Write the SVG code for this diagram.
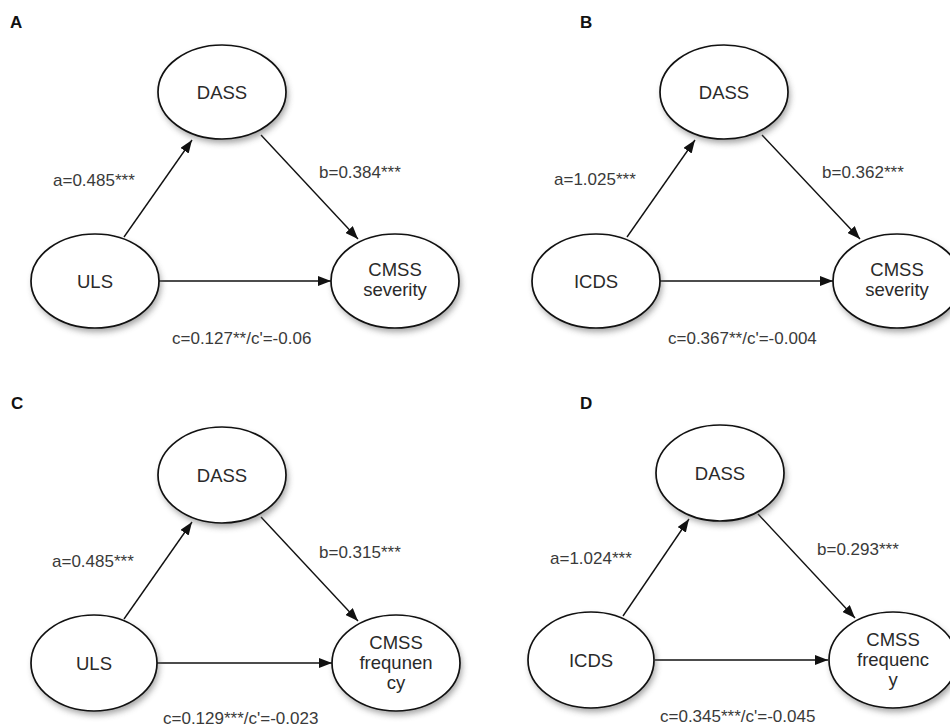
<svg xmlns="http://www.w3.org/2000/svg" width="950" height="727" viewBox="0 0 950 727">
<style>
.node{fill:#fff;stroke:#111;stroke-width:1.7}
.shadow{fill:#666;opacity:0.6}
.nt{font-family:"Liberation Sans",Arial,sans-serif;font-size:18.5px;fill:#2a2a2a;text-anchor:middle}
.lab{font-family:"Liberation Sans",Arial,sans-serif;font-size:17px;fill:#3a3a3a}
.pl{font-family:"Liberation Sans",Arial,sans-serif;font-size:17px;font-weight:bold;fill:#111}
.edge{stroke:#111;stroke-width:1.4;fill:none;marker-end:url(#arr)}
</style>
<defs>
<marker id="arr" markerUnits="userSpaceOnUse" markerWidth="13" markerHeight="10" refX="13" refY="5" orient="auto">
<path d="M0,0 L13,5 L0,10 z" fill="#111"/>
</marker>
<filter id="blur" x="-20%" y="-20%" width="140%" height="140%"><feGaussianBlur stdDeviation="3"/></filter>
</defs>
<rect width="950" height="727" fill="#fff"/>

<g id="labels-panels">
<text class="pl" x="10" y="28">A</text>
<text class="pl" x="580" y="28">B</text>
<text class="pl" x="11" y="409">C</text>
<text class="pl" x="580" y="409">D</text>
</g>

<g id="connectors">
<line class="edge" x1="124" y1="237" x2="192" y2="140"/>
<line class="edge" x1="261" y1="135" x2="358" y2="239"/>
<line class="edge" x1="159" y1="281" x2="331" y2="281"/>

<line class="edge" x1="627" y1="237" x2="695" y2="140"/>
<line class="edge" x1="762" y1="135" x2="860" y2="239"/>
<line class="edge" x1="660" y1="281" x2="833" y2="281"/>

<line class="edge" x1="124" y1="619" x2="192" y2="522"/>
<line class="edge" x1="261" y1="517" x2="358" y2="621"/>
<line class="edge" x1="157" y1="663" x2="332" y2="663"/>

<line class="edge" x1="623" y1="616" x2="689" y2="519"/>
<line class="edge" x1="758" y1="514" x2="855" y2="618"/>
<line class="edge" x1="655" y1="660" x2="828" y2="660"/>
</g>

<g id="edge-labels">
<text class="lab" x="53" y="186">a=0.485***</text>
<text class="lab" x="319" y="178">b=0.384***</text>
<text class="lab" x="172" y="344">c=0.127**/c'=-0.06</text>

<text class="lab" x="554" y="185">a=1.025***</text>
<text class="lab" x="822" y="178">b=0.362***</text>
<text class="lab" x="668" y="344">c=0.367**/c'=-0.004</text>

<text class="lab" x="52" y="567">a=0.485***</text>
<text class="lab" x="319" y="558">b=0.315***</text>
<text class="lab" x="163" y="724">c=0.129***/c'=-0.023</text>

<text class="lab" x="550" y="564">a=1.024***</text>
<text class="lab" x="817" y="555">b=0.293***</text>
<text class="lab" x="660" y="722">c=0.345***/c'=-0.045</text>
</g>

<g id="A-DASS"><ellipse class="shadow" cx="224" cy="96" rx="64" ry="47" filter="url(#blur)"/><ellipse class="node" cx="222" cy="92" rx="64" ry="47"/><text class="nt" x="222" y="99">DASS</text></g>
<g id="A-ULS"><ellipse class="shadow" cx="97" cy="285" rx="64" ry="47" filter="url(#blur)"/><ellipse class="node" cx="95" cy="281" rx="64" ry="47"/><text class="nt" x="95" y="288">ULS</text></g>
<g id="A-CMSS"><ellipse class="shadow" cx="397" cy="285" rx="64" ry="47" filter="url(#blur)"/><ellipse class="node" cx="395" cy="281" rx="64" ry="47"/><text class="nt" x="395" y="276">CMSS</text><text class="nt" x="395" y="296">severity</text></g>

<g id="B-DASS"><ellipse class="shadow" cx="726" cy="96" rx="64" ry="47" filter="url(#blur)"/><ellipse class="node" cx="724" cy="92" rx="64" ry="47"/><text class="nt" x="724" y="99">DASS</text></g>
<g id="B-ICDS"><ellipse class="shadow" cx="598" cy="285" rx="64" ry="47" filter="url(#blur)"/><ellipse class="node" cx="596" cy="281" rx="64" ry="47"/><text class="nt" x="596" y="288">ICDS</text></g>
<g id="B-CMSS"><ellipse class="shadow" cx="899" cy="285" rx="64" ry="47" filter="url(#blur)"/><ellipse class="node" cx="897" cy="281" rx="64" ry="47"/><text class="nt" x="897" y="276">CMSS</text><text class="nt" x="897" y="296">severity</text></g>

<g id="C-DASS"><ellipse class="shadow" cx="224" cy="479" rx="64" ry="48" filter="url(#blur)"/><ellipse class="node" cx="222" cy="475" rx="64" ry="48"/><text class="nt" x="222" y="482">DASS</text></g>
<g id="C-ULS"><ellipse class="shadow" cx="96" cy="667" rx="63" ry="48" filter="url(#blur)"/><ellipse class="node" cx="94" cy="663" rx="63" ry="48"/><text class="nt" x="94" y="670">ULS</text></g>
<g id="C-CMSS"><ellipse class="shadow" cx="398" cy="667" rx="64" ry="48" filter="url(#blur)"/><ellipse class="node" cx="396" cy="663" rx="64" ry="48"/><text class="nt" x="396" y="649">CMSS</text><text class="nt" x="396" y="669">frequnen</text><text class="nt" x="396" y="689">cy</text></g>

<g id="D-DASS"><ellipse class="shadow" cx="722" cy="477" rx="64" ry="48" filter="url(#blur)"/><ellipse class="node" cx="720" cy="473" rx="64" ry="48"/><text class="nt" x="720" y="480">DASS</text></g>
<g id="D-ICDS"><ellipse class="shadow" cx="593" cy="664" rx="63" ry="48" filter="url(#blur)"/><ellipse class="node" cx="591" cy="660" rx="63" ry="48"/><text class="nt" x="591" y="667">ICDS</text></g>
<g id="D-CMSS"><ellipse class="shadow" cx="895" cy="664" rx="64" ry="48" filter="url(#blur)"/><ellipse class="node" cx="893" cy="660" rx="64" ry="48"/><text class="nt" x="893" y="646">CMSS</text><text class="nt" x="893" y="666">frequenc</text><text class="nt" x="893" y="686">y</text></g>
</svg>
